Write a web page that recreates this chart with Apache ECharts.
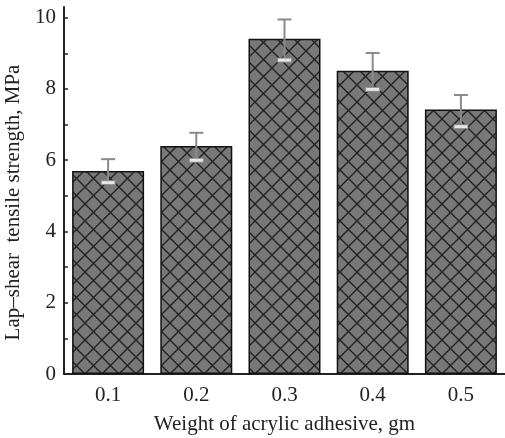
<!DOCTYPE html>
<html>
<head>
<meta charset="utf-8">
<script src="https://cdn.jsdelivr.net/npm/echarts@6/dist/echarts.min.js"></script>
<style>
* { margin: 0; padding: 0; }
#chart-container { width: 505px; height: 438px; background: #fff; }
</style>
</head>
<body>
<div id="chart-container"></div>
<script>
const categories = ['0.1', '0.2', '0.3', '0.4', '0.5']
const strength = [5.70, 6.40, 9.41, 8.51, 7.42]
const errLow = [5.37, 6.00, 8.81, 7.99, 6.94]
const errHigh = [6.03, 6.77, 9.95, 9.01, 7.83]
const yLabels = [0, 2, 4, 6, 8, 10]
const yTicks = [0, 1, 2, 3, 4, 5, 6, 7, 8, 9, 10]

const font = '"Liberation Serif", "DejaVu Serif", serif'

// crosshatch fill
const size = 17
const hatch = document.createElement('canvas')
hatch.width = size
hatch.height = size
const hctx = hatch.getContext('2d')
hctx.fillStyle = '#787878'
hctx.fillRect(0, 0, size, size)
hctx.strokeStyle = '#222'
hctx.lineWidth = 1.4
hctx.beginPath()
hctx.moveTo(0, 0); hctx.lineTo(size, size)
hctx.moveTo(size, 0); hctx.lineTo(0, size)
hctx.stroke()

const chart = echarts.init(document.getElementById('chart-container'), null, { renderer: 'canvas' })

const option = {
  animation: false,
  grid: { left: 64, right: 0, top: 7, bottom: 64, containLabel: false, outerBoundsMode: 'none' },
  xAxis: {
    type: 'category',
    data: categories,
    name: 'Weight of acrylic adhesive, gm',
    nameLocation: 'middle',
    nameGap: 40,
    nameTextStyle: { fontFamily: font, fontSize: 21, color: '#222' },
    axisLine: { lineStyle: { color: '#222', width: 2 } },
    axisTick: { show: false },
    axisLabel: { fontFamily: font, fontSize: 21, color: '#222', margin: 11 }
  },
  yAxis: {
    type: 'value',
    min: 0,
    max: 10.3,
    name: 'Lap\u2013shear  tensile strength, MPa',
    nameLocation: 'middle',
    nameGap: 34,
    nameTextStyle: { fontFamily: font, fontSize: 21, color: '#222', padding: [0, 24, 0, 0] },
    axisLine: { show: true, lineStyle: { color: '#222', width: 2 } },
    axisTick: { show: true, inside: true, length: 4, customValues: yTicks, lineStyle: { color: '#222', width: 1.5 } },
    axisLabel: { fontFamily: font, fontSize: 21, color: '#222', margin: 8, customValues: yLabels },
    splitLine: { show: false }
  },
  series: [
    {
      type: 'bar',
      data: strength,
      barWidth: 72,
      itemStyle: {
        color: { image: hatch, repeat: 'repeat' },
        borderColor: '#111',
        borderWidth: 1.5
      }
    },
    {
      type: 'custom',
      data: categories.map((c, i) => [i, errLow[i], errHigh[i]]),
      z: 10,
      renderItem: (params, api) => {
        const lo = api.coord([api.value(0), api.value(1)])
        const hi = api.coord([api.value(0), api.value(2)])
        const half = 7
        return {
          type: 'group',
          children: [
            { type: 'line', shape: { x1: hi[0], y1: hi[1], x2: lo[0], y2: lo[1] }, style: { stroke: '#8a8a8a', lineWidth: 2 } },
            { type: 'line', shape: { x1: hi[0] - half, y1: hi[1], x2: hi[0] + half, y2: hi[1] }, style: { stroke: '#8a8a8a', lineWidth: 2 } },
            { type: 'rect', shape: { x: lo[0] - half, y: lo[1] - 2, width: half * 2, height: 4 }, style: { fill: '#e8e8e8', stroke: '#8a8a8a', lineWidth: 1 } }
          ]
        }
      }
    }
  ]
}

chart.setOption(option)
</script>
</body>
</html>
